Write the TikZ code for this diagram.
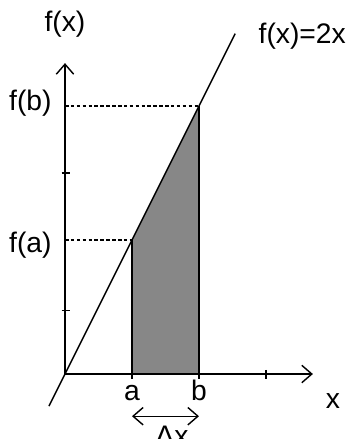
\documentclass[tikz,border=0pt]{standalone}
\usepackage{fontspec}
\setmainfont{Liberation Sans}
\usetikzlibrary{arrows.meta}

\definecolor{areagray}{RGB}{135,135,135}

\begin{document}
\begin{tikzpicture}[every node/.style={font=\fontsize{12}{14}\selectfont, inner sep=0pt}, >={Straight Barb[length=1.5mm,width=2.6mm]}, line width=0.6pt]
	\useasboundingbox (-0.97,-0.97) rectangle (4.224,5.582);
	\coordinate (O) at (0,0);
	\coordinate (A) at (1,0);
	\coordinate (B) at (2,0);
	\coordinate (FA) at (1,2);
	\coordinate (FB) at (2,4);
	\fill[areagray] (A) -- (FA) -- (FB) -- (B) -- cycle;
	\draw[->] (O) -- (3.7,0);
	\draw[->] (O) -- (0,4.64);
	\foreach \x in {1,2,3} \draw (\x,0.06) -- (\x,-0.08);
	\foreach \y in {0.95,3} \draw (-0.05,\y) -- (0.07,\y);
	\draw (A) -- (FA);
	\draw (B) -- (FB);
	\draw[line width=0.5pt, dash pattern=on 1.5pt off 1pt] (O |- FA) -- (FA);
	\draw[line width=0.5pt, dash pattern=on 1.5pt off 1pt] (O |- FB) -- (FB);
	\draw (-0.24,-0.48) -- (2.54,5.08);
	\draw[<->] ([yshift=-0.63cm]A) -- ([yshift=-0.63cm]B);
	\node[anchor=base] (fx) at (0,5.11) {f(x)};
	\node[anchor=base east] (fb) at (-0.19,3.94) {f(b)};
	\node[anchor=base east] (fa) at (-0.19,1.82) {f(a)};
	\node[anchor=base] (la) at (1,-0.39) {a};
	\node[anchor=base] (lb) at (2,-0.39) {b};
	\node[anchor=base] (lx) at (4.0,-0.52) {x};
	\node[anchor=base west] (fun) at (2.88,4.94) {f(x)=2x};
	\node[anchor=base west] (dx) at (1.34,-1.06) {Δx};
\end{tikzpicture}
\end{document}
